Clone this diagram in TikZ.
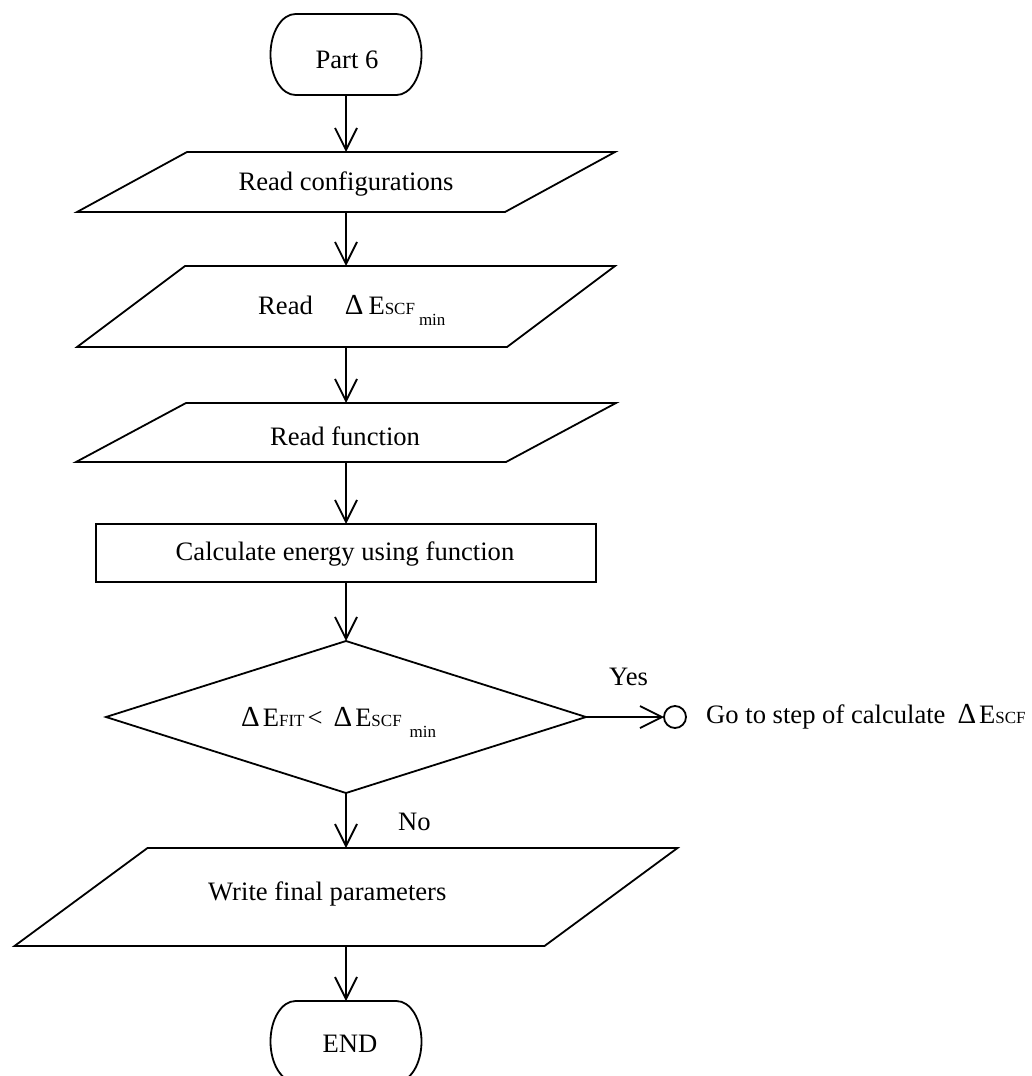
\documentclass[tikz,border=0pt]{standalone}
\usepackage{fontspec}
\setmainfont{Liberation Serif}
\usetikzlibrary{arrows.meta}

% small indices used in the energy labels
\newcommand\subtxt[1]{{\fontsize{17}{17}\selectfont #1}}
\newcommand\lowtxt[1]{\raisebox{-11pt}{\fontsize{17}{17}\selectfont #1}}
\newcommand\dlt{{\fontsize{29}{29}\selectfont Δ}}

\begin{document}
\begin{tikzpicture}[x=1pt, y=-1pt,
  every node/.style={font=\fontsize{26.6}{30}\selectfont},
  frame/.style={inner sep=0pt, outer sep=0pt},
  outline/.style={line width=1.8pt, line join=miter},
  txt/.style={anchor=base, inner sep=0pt},
  txtl/.style={anchor=base west, inner sep=0pt},
  flow/.style={line width=1.8pt, -{Straight Barb[length=22pt,width=22pt]}},
]
\clip (0,0) rectangle (1032,1076);
\fill[white] (0,0) rectangle (1032,1076);

% ---- start terminator
\node[frame, minimum width=151pt, minimum height=81pt] (start) at (346,54.5) {};
\draw[outline] ([xshift=25pt]start.north west) -- ([xshift=-25pt]start.north east)
  arc[start angle=90, end angle=-90, x radius=25pt, y radius=40.5pt]
  -- ([xshift=25pt]start.south west)
  arc[start angle=270, end angle=90, x radius=25pt, y radius=40.5pt] -- cycle;
\node[txt] (startlbl) at (347,68) {Part 6};

% ---- read configurations
\node[frame, minimum width=428pt, minimum height=60pt] (cfg) at (346,182) {};
\draw[outline] ([xshift=55pt]cfg.north west) -- ([xshift=55pt]cfg.north east)
  -- ([xshift=-55pt]cfg.south east) -- ([xshift=-55pt]cfg.south west) -- cycle;
\node[txt] (cfglbl) at (346,190) {Read configurations};

% ---- read Delta E_SCF min
\node[frame, minimum width=430pt, minimum height=81pt] (scf) at (346,306.5) {};
\draw[outline] ([xshift=54pt]scf.north west) -- ([xshift=54pt]scf.north east)
  -- ([xshift=-54pt]scf.south east) -- ([xshift=-54pt]scf.south west) -- cycle;
\node[txtl] (scflbl) at (258,314)
  {Read\hspace{32pt}\dlt\hspace{5pt}E\subtxt{SCF}\hspace{4pt}\lowtxt{min}};

% ---- read function
\node[frame, minimum width=430pt, minimum height=59pt] (fun) at (346,432.5) {};
\draw[outline] ([xshift=55pt]fun.north west) -- ([xshift=55pt]fun.north east)
  -- ([xshift=-55pt]fun.south east) -- ([xshift=-55pt]fun.south west) -- cycle;
\node[txt] (funlbl) at (345,445) {Read function};

% ---- calculate energy
\node[frame, draw, outline, minimum width=500pt, minimum height=58pt] (calc) at (346,553) {};
\node[txt] (calclbl) at (345,560) {Calculate energy using function};

% ---- decision
\node[frame, minimum width=480pt, minimum height=152pt] (dec) at (346,717) {};
\draw[outline] (dec.north) -- (dec.east) -- (dec.south) -- (dec.west) -- cycle;
\node[txtl] (declbl) at (241,726)
  {\dlt\hspace{3pt}E\subtxt{FIT}\hspace{3pt}<\hspace{11pt}\dlt\hspace{3pt}E\subtxt{SCF}\hspace{8pt}\lowtxt{min}};

% ---- off-page connector
\node[frame, draw, outline, circle, minimum size=22pt] (goto) at (675,717) {};
\node[txtl] (gotolbl) at (706,723)
  {Go to step of calculate\hspace{12pt}\dlt\hspace{3pt}E\subtxt{SCF}};

% ---- write final parameters
\node[frame, minimum width=530pt, minimum height=98pt] (write) at (346,897) {};
\draw[outline] ([xshift=66.5pt]write.north west) -- ([xshift=66.5pt]write.north east)
  -- ([xshift=-66.5pt]write.south east) -- ([xshift=-66.5pt]write.south west) -- cycle;
\node[txtl] (writelbl) at (208,900) {Write final parameters};

% ---- end terminator
\node[frame, minimum width=151pt, minimum height=81pt] (stop) at (346,1041.5) {};
\draw[outline] ([xshift=25pt]stop.north west) -- ([xshift=-25pt]stop.north east)
  arc[start angle=90, end angle=-90, x radius=25pt, y radius=40.5pt]
  -- ([xshift=25pt]stop.south west)
  arc[start angle=270, end angle=90, x radius=25pt, y radius=40.5pt] -- cycle;
\node[txt] (stoplbl) at (350,1052) {END};

% ---- connectors
\draw[flow] (start.south) -- (cfg.north);
\draw[flow] (cfg.south) -- (scf.north);
\draw[flow] (scf.south) -- (fun.north);
\draw[flow] (fun.south) -- (calc.north);
\draw[flow] (calc.south) -- (dec.north);
\draw[flow] (dec.east) -- (goto.west);
\draw[flow] (dec.south) -- (write.north);
\draw[flow] (write.south) -- (stop.north);

\node[txtl] (yes) at (609,685) {Yes};
\node[txtl] (no) at (398,830) {No};
\end{tikzpicture}
\end{document}
